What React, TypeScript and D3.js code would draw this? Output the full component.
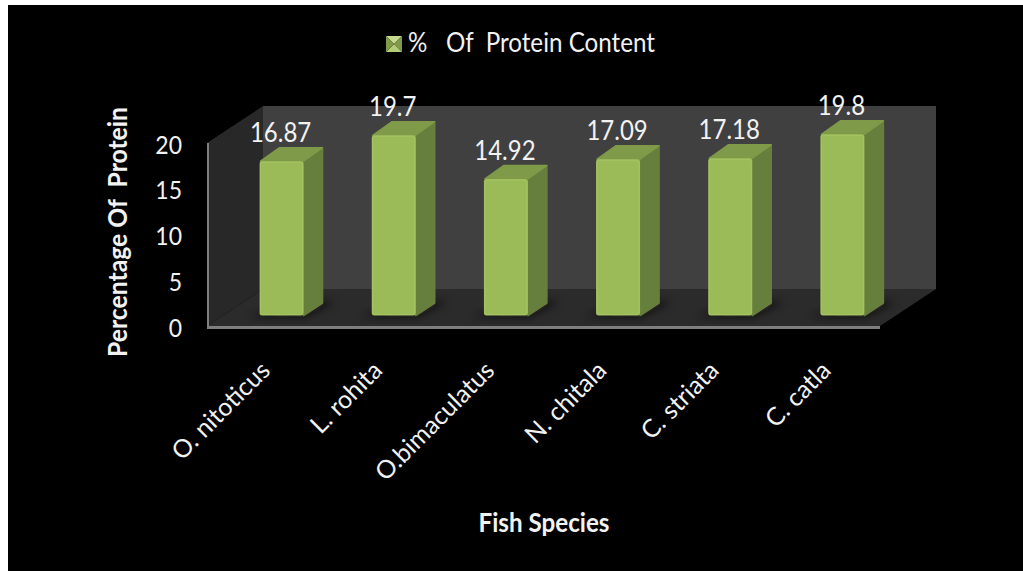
import { useRef, useEffect } from 'react';
import * as d3 from 'd3';

const species = ['O. nitoticus', 'L. rohita', 'O.bimaculatus', 'N. chitala', 'C. striata', 'C. catla'];
const proteinValues = [16.87, 19.7, 14.92, 17.09, 17.18, 19.8];
const valueLabels = ['16.87', '19.7', '14.92', '17.09', '17.18', '19.8'];
const yTicks = [0, 5, 10, 15, 20];

const width = 1023;
const height = 571;
const fontFamily = 'Lato, "Open Sans", sans-serif';
const stretch = 1.1; // the reference text is a bit taller than wide

export default function App() {
  const ref = useRef<SVGSVGElement>(null);

  useEffect(() => {
    if (!ref.current) return;

    const svg = d3.select(ref.current);
    svg.selectAll('*').remove(); // Clear previous renders

    svg.append('rect').attr('x', 8).attr('y', 5).attr('width', width - 8).attr('height', height - 5).attr('fill', '#000');

    const defs = svg.append('defs');
    defs.append('filter').attr('id', 'soft').attr('x', '-50%').attr('y', '-50%').attr('width', '200%').attr('height', '200%')
      .append('feGaussianBlur').attr('stdDeviation', 4);

    // Create scales
    const xScale = d3.scaleBand<string>().domain(species).range([207, 880]);
    const yScale = d3.scaleLinear().domain([0, 20]).range([326, 143]);

    const wallDx = 56;
    const wallDy = 37;
    const left = xScale.range()[0];
    const right = xScale.range()[1];
    const y0 = yScale(0);
    const yTop = yScale(20);
    const poly = (pts: number[][]) => pts.map((p) => p.join(',')).join(' ');

    // 3D walls and floor
    svg.append('polygon')
      .attr('points', poly([[left + wallDx, yTop - wallDy], [right + wallDx, yTop - wallDy], [right + wallDx, y0 - wallDy], [left + wallDx, y0 - wallDy]]))
      .attr('fill', '#404040');
    svg.append('polygon')
      .attr('points', poly([[left, yTop], [left + wallDx, yTop - wallDy], [left + wallDx, y0 - wallDy], [left, y0]]))
      .attr('fill', '#282828');
    svg.append('polygon')
      .attr('points', poly([[left, y0], [left + wallDx, y0 - wallDy], [right + wallDx, y0 - wallDy], [right, y0]]))
      .attr('fill', '#2b2b2b');
    svg.append('rect').attr('x', left).attr('y', yTop).attr('width', 2).attr('height', y0 - yTop + 3).attr('fill', '#7f7f7f');
    svg.append('rect').attr('x', left).attr('y', y0).attr('width', right - left).attr('height', 3).attr('fill', '#7f7f7f');

    // Bars
    const barWidth = 44;
    const depthX = 19;
    const depthY = 13.5;
    const insetX = 18.5;
    const insetY = 10.5;

    species.forEach((name, i) => {
      const value = proteinValues[i];
      const x0 = xScale(name)! + xScale.bandwidth() / 2 + insetX - barWidth / 2;
      const x1 = x0 + barWidth;
      const top = yScale(value) - insetY;
      const bottom = y0 - insetY;
      const g = svg.append('g');

      // floor shadow
      g.append('polygon')
        .attr('points', poly([[x0 - 12, bottom + 1], [x1, bottom + 1], [x1 + depthX + 12, bottom - depthY], [x1 + 4, bottom - depthY]]))
        .attr('fill', '#111')
        .attr('opacity', 0.75)
        .attr('filter', 'url(#soft)');
      // right side
      g.append('polygon')
        .attr('points', poly([[x1, top + 1], [x1 + depthX, top - depthY + 1], [x1 + depthX, bottom - depthY + 1], [x1, bottom]]))
        .attr('fill', '#677f3c')
        .attr('stroke', '#677f3c')
        .attr('stroke-width', 1.5)
        .attr('stroke-linejoin', 'round');
      // top
      g.append('polygon')
        .attr('points', poly([[x0 + 1, top], [x0 + depthX + 1, top - depthY], [x1 + depthX, top - depthY], [x1, top]]))
        .attr('fill', '#7f9a48')
        .attr('stroke', '#7f9a48')
        .attr('stroke-width', 1.5)
        .attr('stroke-linejoin', 'round');
      // front
      g.append('rect')
        .attr('x', x0).attr('y', top).attr('width', barWidth).attr('height', bottom - top).attr('rx', 2.5)
        .attr('fill', '#9bbb59');
      g.append('rect')
        .attr('x', x0 + 1).attr('y', top + 1).attr('width', barWidth - 2).attr('height', bottom - top - 2).attr('rx', 2)
        .attr('fill', 'none').attr('stroke', '#a5c563').attr('stroke-width', 1);

      // value label
      g.append('text')
        .attr('transform', `translate(${x0 + barWidth / 2 - 1},${top - 19}) scale(1,${stretch})`)
        .attr('text-anchor', 'middle')
        .attr('font-family', fontFamily)
        .attr('font-size', 24)
        .attr('fill', '#f2f2f2')
        .text(valueLabels[i]);

      // category label
      svg.append('text')
        .attr('transform', `translate(${x0 + barWidth / 2 - 10},${y0 + 46}) rotate(-45)`)
        .attr('text-anchor', 'end')
        .attr('font-family', fontFamily)
        .attr('font-size', 25)
        .attr('fill', '#f2f2f2')
        .text(name);
    });

    // Y axis
    const axis = svg.append('g')
      .attr('transform', `translate(${left},2)`)
      .call(d3.axisLeft(yScale).tickValues(yTicks).tickSize(0).tickPadding(25));
    axis.select('.domain').remove();
    axis.selectAll('text')
      .attr('font-family', fontFamily)
      .attr('font-size', 23)
      .attr('fill', '#f2f2f2')
      .attr('transform', `scale(1,${stretch})`);

    // Axis titles
    svg.append('text')
      .attr('transform', `translate(127,232) rotate(-90) scale(1,${stretch})`)
      .attr('text-anchor', 'middle')
      .attr('font-family', fontFamily)
      .attr('font-weight', 700)
      .attr('font-size', 24)
      .attr('fill', '#f2f2f2')
      .attr('textLength', 250)
      .attr('lengthAdjust', 'spacingAndGlyphs')
      .style('white-space', 'pre')
      .text('Percentage Of  Protein');
    svg.append('text')
      .attr('transform', `translate(544,532) scale(1,${stretch})`)
      .attr('text-anchor', 'middle')
      .attr('font-family', fontFamily)
      .attr('font-weight', 700)
      .attr('font-size', 24)
      .attr('fill', '#f2f2f2')
      .attr('textLength', 131)
      .attr('lengthAdjust', 'spacingAndGlyphs')
      .text('Fish Species');

    // Legend
    const swatch = svg.append('g').attr('transform', 'translate(386,36)');
    const s = 16;
    const c = [s / 2, s / 2];
    swatch.append('polygon').attr('points', poly([[0, 0], [s, 0], c])).attr('fill', '#c5d98f');
    swatch.append('polygon').attr('points', poly([[s, 0], [s, s], c])).attr('fill', '#7f9a48');
    swatch.append('polygon').attr('points', poly([[0, s], [s, s], c])).attr('fill', '#b3cc78');
    swatch.append('polygon').attr('points', poly([[0, 0], [0, s], c])).attr('fill', '#7f9a48');

    svg.append('text')
      .attr('transform', `translate(408,52) scale(1,${stretch})`)
      .attr('font-family', fontFamily)
      .attr('font-size', 24)
      .attr('fill', '#f2f2f2')
      .attr('textLength', 247)
      .attr('lengthAdjust', 'spacingAndGlyphs')
      .style('white-space', 'pre')
      .text('%   Of  Protein Content');
  }, []);

  return (
    <svg
      ref={ref}
      width={width}
      height={height}
      style={{ position: 'absolute', left: 0, top: 0, display: 'block' }}
    />
  );
}
